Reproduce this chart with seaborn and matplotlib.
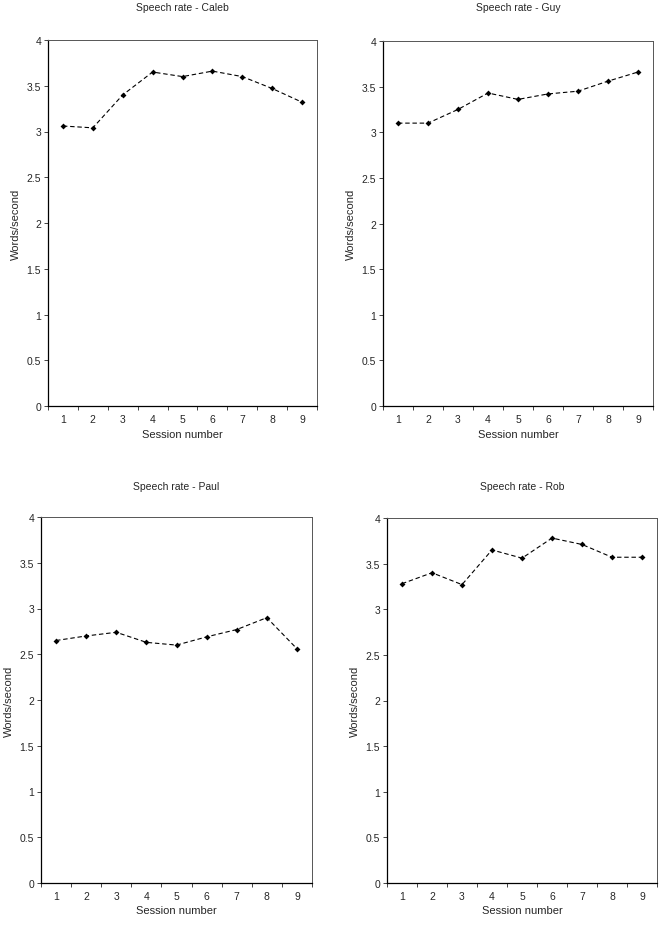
import numpy as np
import pandas as pd
import matplotlib
matplotlib.use('Agg')
import matplotlib.pyplot as plt
import seaborn as sns

# ── Data ──────────────────────────────────────────────────────────────────────
sessions = [1, 2, 3, 4, 5, 6, 7, 8, 9]
caleb = [3.06, 3.04, 3.40, 3.65, 3.60, 3.66, 3.60, 3.47, 3.32]
guy   = [3.10, 3.10, 3.25, 3.43, 3.36, 3.42, 3.45, 3.56, 3.66]
paul  = [2.65, 2.70, 2.74, 2.63, 2.60, 2.69, 2.77, 2.90, 2.56]
rob   = [3.28, 3.40, 3.27, 3.65, 3.56, 3.78, 3.71, 3.57, 3.57]
speakers = ['Caleb', 'Guy', 'Paul', 'Rob']
yticks = [0, 0.5, 1, 1.5, 2, 2.5, 3, 3.5, 4]
ytick_labels = ['0', '0.5', '1', '1.5', '2', '2.5', '3', '3.5', '4']

sns.set_style('white')
plt.rcParams['font.family'] = ['Liberation Sans', 'DejaVu Sans']

W, H = 663, 928
fig = plt.figure(figsize=(W / 100, H / 100), dpi=100)

# axes boxes in pixels: left, top, right, bottom
boxes = [(48, 41, 317, 407), (383, 42, 653, 407),
         (41, 518, 312, 884), (387, 519, 657, 884)]
title_y = [8, 8, 487, 487]
series = [caleb, guy, paul, rob]

for name, vals, (l, t, r, b), ty in zip(speakers, series, boxes, title_y):
    ax = fig.add_axes([l / W, 1 - b / H, (r - l) / W, (b - t) / H])
    df = pd.DataFrame({'session': sessions, 'rate': vals})
    sns.lineplot(data=df, x='session', y='rate', ax=ax, color='black',
                 linestyle=(0, (4, 2.5)), linewidth=0.8, marker='D',
                 markersize=3, markeredgewidth=0)
    ax.set_xlim(0.5, 9.5)
    ax.set_ylim(0, 4)
    ax.set_yticks(yticks)
    ax.set_yticklabels(ytick_labels)
    ax.set_xticks(sessions)
    ax.set_xticks(np.arange(0.5, 10, 1), minor=True)
    ax.tick_params(axis='x', which='major', length=0, labelsize=7.5, pad=6)
    ax.tick_params(axis='x', which='minor', length=3, width=0.6,
                   direction='out', bottom=True)
    ax.tick_params(axis='y', length=3, width=0.6, direction='out', left=True,
                   labelsize=7.5, pad=2)
    ax.set_xlabel('Session number', fontsize=8, labelpad=3)
    ax.set_ylabel('Words/second', fontsize=8, labelpad=4)
    for side in ['left', 'bottom']:
        ax.spines[side].set_color('black')
        ax.spines[side].set_linewidth(0.9)
    for side in ['top', 'right']:
        ax.spines[side].set_color('#555555')
        ax.spines[side].set_linewidth(0.7)
    cx = (l + r) / 2 / W
    fig.text(cx, 1 - ty / H, f'Speech rate - {name}', ha='center',
             va='center', fontsize=7.5)

fig.savefig('out.png', dpi=100)
